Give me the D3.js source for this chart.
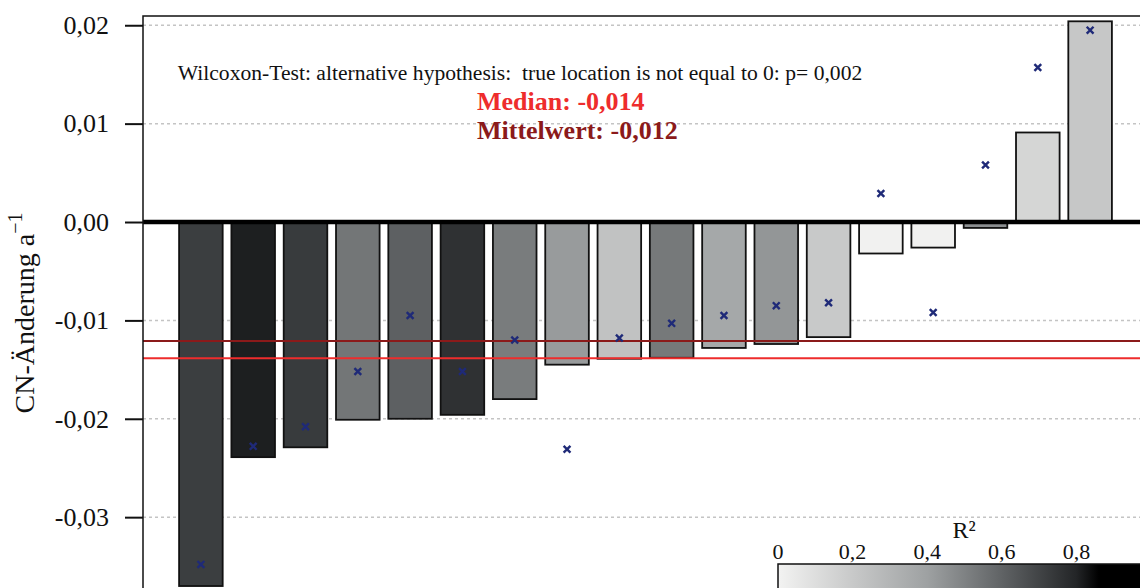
<!DOCTYPE html>
<html>
<head>
<meta charset="utf-8">
<script src="https://cdn.jsdelivr.net/npm/d3@7"></script>
<style>
  html, body { margin: 0; padding: 0; background: #fff; overflow: hidden; }
  svg { display: block; font-family: "Liberation Serif", "Times New Roman", serif; }
</style>
</head>
<body>
<svg id="chart" width="1140" height="588"></svg>
<script>
// Sites, ordered by their CN change per year
const sites = [1, 2, 3, 4, 5, 6, 7, 8, 9, 10, 11, 12, 13, 14, 15, 16, 17, 18];
// Regression slope of CN per year (bars)
const cnChange = [-0.0370, -0.0239, -0.0229, -0.0201, -0.0200, -0.0196, -0.0180, -0.0145, -0.0139,
                  -0.0138, -0.0128, -0.0124, -0.0117, -0.0032, -0.0026, -0.0006, 0.0091, 0.0204];
// Alternative trend estimate per site (crosses)
const trendEstimate = [-0.0348, -0.0228, -0.0208, -0.0152, -0.0095, -0.0152, -0.0120, -0.0231, -0.0118,
                       -0.0103, -0.0095, -0.0085, -0.0082, 0.0029, -0.0092, 0.0058, 0.0157, 0.0195];
// Coefficient of determination of each regression (bar shading)
const r2 = [0.72, 0.81, 0.73, 0.54, 0.61, 0.76, 0.52, 0.42, 0.235,
            0.53, 0.365, 0.435, 0.20, 0.01, 0.01, 0.46, 0.14, 0.21];
const yTicks = [-0.03, -0.02, -0.01, 0.00, 0.01, 0.02];
const r2Ticks = [0, 0.2, 0.4, 0.6, 0.8];
const pValue = "0,002";

// Grey ramp used for R²
const r2Stops = [0, 0.2, 0.4, 0.6, 0.8, 0.86, 1];
const greyStops = ["#f3f3f2", "#c8c9c9", "#9ea1a2", "#606365", "#232527", "#000000", "#000000"];

(function draw() {
  const svg = d3.select("#chart");
  const plotLeft = 143, plotRight = 1148, plotTop = 16, plotBottom = 600;

  const x = d3.scaleBand()
    .domain(sites)
    .range([plotLeft, plotRight])
    .paddingInner(0.1667)
    .paddingOuter(0.69);

  const y = d3.scaleLinear()
    .domain([-0.03842, 0.02094])
    .range([plotBottom, plotTop]);

  const grey = d3.scaleLinear().domain(r2Stops).range(greyStops).clamp(true);

  const comma = v => d3.format(".2f")(v).replace(".", ",").replace("\u2212", "-");
  const comma3 = v => d3.format(".3f")(v).replace(".", ",").replace("\u2212", "-");

  // dotted grid lines
  svg.append("g")
    .selectAll("line")
    .data(yTicks)
    .join("line")
    .attr("x1", plotLeft).attr("x2", plotRight)
    .attr("y1", d => y(d)).attr("y2", d => y(d))
    .attr("stroke", "#c4c4c4")
    .attr("stroke-width", 1.5)
    .attr("stroke-dasharray", "3,3");

  // bars
  svg.append("g")
    .selectAll("rect")
    .data(sites.map((s, i) => ({ s, v: cnChange[i], r: r2[i] })))
    .join("rect")
    .attr("x", d => x(d.s))
    .attr("width", x.bandwidth())
    .attr("y", d => y(Math.max(0, d.v)))
    .attr("height", d => Math.abs(y(d.v) - y(0)))
    .attr("fill", d => grey(d.r))
    .attr("stroke", "#111")
    .attr("stroke-width", 1.8);

  // mean and median lines
  const med = d3.median(cnChange);
  const mean = d3.mean(cnChange);
  svg.append("line")
    .attr("x1", plotLeft).attr("x2", plotRight)
    .attr("y1", y(mean)).attr("y2", y(mean))
    .attr("stroke", "#8b1a1a").attr("stroke-width", 2);
  svg.append("line")
    .attr("x1", plotLeft).attr("x2", plotRight)
    .attr("y1", y(med)).attr("y2", y(med))
    .attr("stroke", "#ee2c2c").attr("stroke-width", 2);

  // crosses
  svg.append("g")
    .selectAll("path")
    .data(sites.map((s, i) => ({ s, v: trendEstimate[i] })))
    .join("path")
    .attr("transform", d => `translate(${x(d.s) + x.bandwidth() / 2},${y(d.v)})`)
    .attr("d", d3.symbol(d3.symbolX, 32))
    .attr("fill", "none")
    .attr("stroke", "#1f2a78")
    .attr("stroke-width", 2.4);

  // zero line
  svg.append("line")
    .attr("x1", plotLeft).attr("x2", plotRight)
    .attr("y1", y(0)).attr("y2", y(0))
    .attr("stroke", "#000").attr("stroke-width", 4.5);

  // plot frame
  svg.append("rect")
    .attr("x", plotLeft).attr("y", plotTop)
    .attr("width", plotRight - plotLeft).attr("height", plotBottom - plotTop)
    .attr("fill", "none").attr("stroke", "#111").attr("stroke-width", 1.5);

  // y axis
  const yAxis = svg.append("g")
    .attr("transform", `translate(${plotLeft},0)`)
    .call(d3.axisLeft(y).tickValues(yTicks).tickFormat(comma).tickSize(18).tickPadding(16));
  yAxis.select(".domain").remove();
  yAxis.selectAll(".tick line").attr("stroke", "#111").attr("stroke-width", 2);
  yAxis.selectAll(".tick text")
    .attr("font-family", "Liberation Serif")
    .attr("font-size", 26)
    .attr("fill", "#111");

  // y axis title
  const yTitle = svg.append("text")
    .attr("transform", "translate(34,313) rotate(-90)")
    .attr("text-anchor", "middle")
    .attr("font-size", 28)
    .attr("fill", "#111");
  yTitle.append("tspan").text("CN-Änderung a");
  yTitle.append("tspan").attr("font-size", 20).attr("dy", -12).text("\u22121");

  // annotations
  svg.append("text")
    .attr("x", 520).attr("y", 80)
    .attr("text-anchor", "middle")
    .attr("font-size", 21.6)
    .attr("fill", "#111")
    .attr("xml:space", "preserve")
    .text(`Wilcoxon-Test: alternative hypothesis:  true location is not equal to 0: p= ${pValue}`);
  svg.append("text")
    .attr("x", 477).attr("y", 110)
    .attr("font-size", 26).attr("font-weight", "bold")
    .attr("fill", "#ee2c2c")
    .text(`Median: ${comma3(med)}`);
  svg.append("text")
    .attr("x", 477).attr("y", 139)
    .attr("font-size", 26).attr("font-weight", "bold")
    .attr("fill", "#8b1a1a")
    .text(`Mittelwert: ${comma3(mean)}`);

  // R² colour legend
  const lx = d3.scaleLinear().domain([0, 1]).range([778, 1151]);
  const grad = svg.append("defs").append("linearGradient")
    .attr("id", "r2grad")
    .attr("x1", "0%").attr("x2", "100%").attr("y1", "0%").attr("y2", "0%");
  grad.selectAll("stop")
    .data(r2Stops)
    .join("stop")
    .attr("offset", d => `${d * 100}%`)
    .attr("stop-color", (d, i) => greyStops[i]);
  svg.append("rect")
    .attr("x", lx(0)).attr("y", 564)
    .attr("width", lx(1) - lx(0)).attr("height", 40)
    .attr("fill", "url(#r2grad)")
    .attr("stroke", "#111").attr("stroke-width", 1.5);
  svg.append("g")
    .selectAll("text")
    .data(r2Ticks)
    .join("text")
    .attr("x", d => lx(d))
    .attr("y", 559)
    .attr("text-anchor", "middle")
    .attr("font-size", 22)
    .attr("fill", "#111")
    .text(d => d === 0 ? "0" : d3.format(".1f")(d).replace(".", ","));
  svg.append("text")
    .attr("x", 964).attr("y", 538)
    .attr("text-anchor", "middle")
    .attr("font-size", 24)
    .attr("fill", "#111")
    .text("R²");
})();
</script>
</body>
</html>
